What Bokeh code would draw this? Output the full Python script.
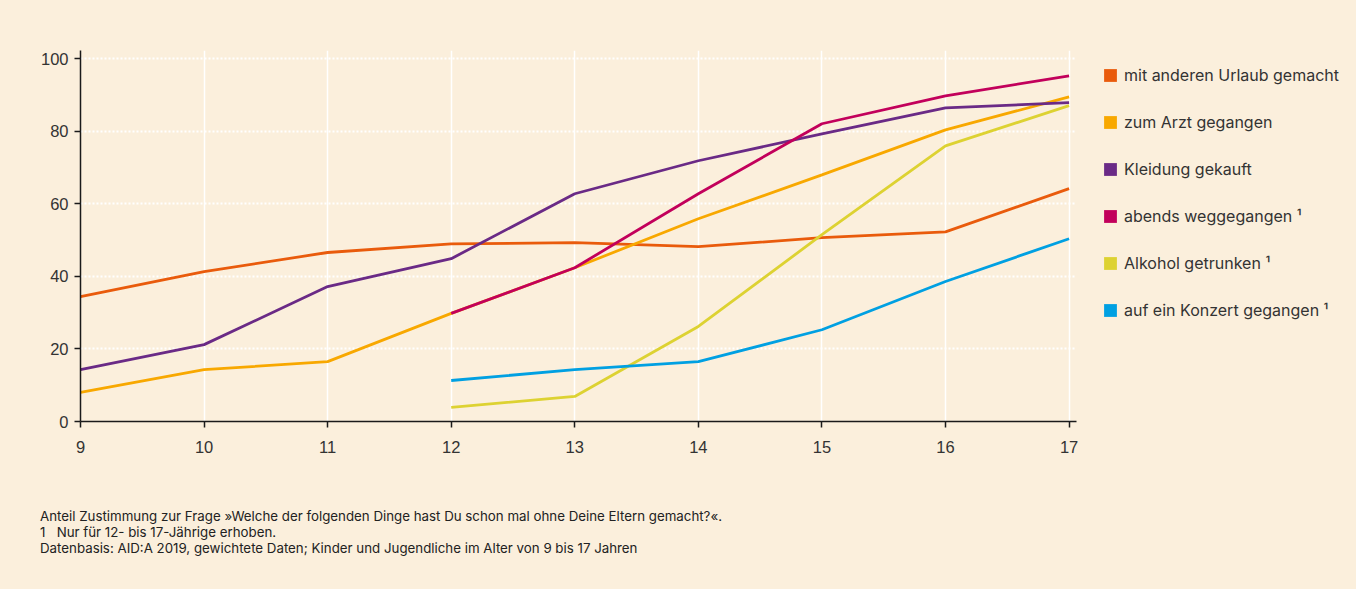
from bokeh.plotting import figure
from bokeh.models import Legend, LegendItem, FixedTicker, Div
from bokeh.layouts import column, row
from bokeh.embed import file_html
from bokeh.resources import INLINE

BG = "#FBEFDC"
FONT = "Inter"
TICK_FONT = "Liberation Sans"

ages_all = [9, 10, 11, 12, 13, 14, 15, 16, 17]
ages_teen = [12, 13, 14, 15, 16, 17]

urlaub = [34.4, 41.3, 46.6, 49.0, 49.3, 48.2, 50.7, 52.3, 64.2]
arzt = [8.0, 14.3, 16.5, 29.8, 42.4, 55.9, 68.0, 80.4, 89.5]
kleidung = [14.3, 21.2, 37.2, 44.9, 62.8, 71.9, 79.3, 86.5, 87.9]
abends = [29.8, 42.4, 62.8, 82.1, 89.8, 95.3]
alkohol = [3.9, 6.9, 26.2, 51.5, 76.0, 87.1]
konzert = [11.3, 14.3, 16.5, 25.3, 38.6, 50.4]

series = [
    ("mit anderen Urlaub gemacht", ages_all, urlaub, "#E95B0C"),
    ("zum Arzt gegangen", ages_all, arzt, "#F8A800"),
    ("Kleidung gekauft", ages_all, kleidung, "#6A2A86"),
    ("abends weggegangen \u00b9", ages_teen, abends, "#C2005B"),
    ("Alkohol getrunken \u00b9", ages_teen, alkohol, "#DDD232"),
    ("auf ein Konzert gegangen \u00b9", ages_teen, konzert, "#00A0E2"),
]

footnotes = [
    "Anteil Zustimmung zur Frage \u00bbWelche der folgenden Dinge hast Du schon mal ohne Deine Eltern gemacht?\u00ab.",
    "1&nbsp;&nbsp; Nur f\u00fcr 12- bis 17-J\u00e4hrige erhoben.",
    "Datenbasis: AID:A 2019, gewichtete Daten; Kinder und Jugendliche im Alter von 9 bis 17 Jahren",
]

# ---- main chart ----
p = figure(width=1086, height=506, output_backend="svg", toolbar_location=None,
           x_range=(9, 17.06), y_range=(0, 102.3),
           min_border_left=80, min_border_right=10, min_border_top=50, min_border_bottom=85)
p.background_fill_color = BG
p.border_fill_color = BG
p.outline_line_color = None

p.xgrid.ticker = FixedTicker(ticks=[10, 11, 12, 13, 14, 15, 16, 17])
p.xgrid.grid_line_color = "white"
p.xgrid.grid_line_width = 1.5
p.ygrid.ticker = FixedTicker(ticks=[20, 40, 60, 80, 100])
p.ygrid.grid_line_color = "white"
p.ygrid.grid_line_width = 2
p.ygrid.grid_line_dash = "2 2"

for ax, ticks in ((p.xaxis[0], ages_all), (p.yaxis[0], [0, 20, 40, 60, 80, 100])):
    ax.ticker = FixedTicker(ticks=ticks)
    ax.axis_line_color = "#1a1a1a"
    ax.axis_line_width = 1.5
    ax.major_tick_line_color = "#1a1a1a"
    ax.major_tick_line_width = 1.5
    ax.major_tick_out = 6
    ax.major_tick_in = 0
    ax.minor_tick_line_color = None
    ax.major_label_text_font = TICK_FONT
    ax.major_label_text_font_size = "16.5px"
    ax.major_label_text_color = "#333333"
p.xaxis.major_label_standoff = 13
p.yaxis.major_label_standoff = 6

for name, xs, ys, col in series:
    p.line(xs, ys, line_color=col, line_width=2.8)

# ---- legend panel ----
lg = figure(width=270, height=506, output_backend="svg", toolbar_location=None,
            x_axis_type=None, y_axis_type=None, min_border=0)
lg.background_fill_color = BG
lg.border_fill_color = BG
lg.outline_line_color = None
lg.grid.visible = False

items = []
for name, xs, ys, col in series:
    r = lg.quad(left=xs[:1], right=xs[:1], top=ys[:1], bottom=ys[:1],
                fill_color=col, line_color=None, visible=False)
    items.append(LegendItem(label=name, renderers=[r]))

legend = Legend(items=items, location=(16, 101), orientation="vertical",
                glyph_width=16, glyph_height=16, label_height=13, spacing=27,
                label_standoff=6, padding=0, margin=0,
                border_line_color=None, background_fill_alpha=0,
                inactive_fill_alpha=0,
                label_text_font=FONT, label_text_font_size="16px",
                label_text_color="#333333", label_text_baseline="middle")
lg.add_layout(legend, "center")

# ---- footnotes ----
notes = Div(text="<br>".join(footnotes), width=1356, height=83,
            styles={"background-color": BG, "font-family": "Inter", "font-size": "13.3px",
                    "line-height": "16px", "color": "#222222",
                    "padding-left": "40px", "padding-top": "2px", "box-sizing": "border-box",
                    "margin": "0"})

top = row(p, lg, spacing=0, styles={"background-color": BG})
layout = column(top, notes, spacing=0, styles={"background-color": BG})
open("out.html", "w").write(file_html(layout, INLINE))
